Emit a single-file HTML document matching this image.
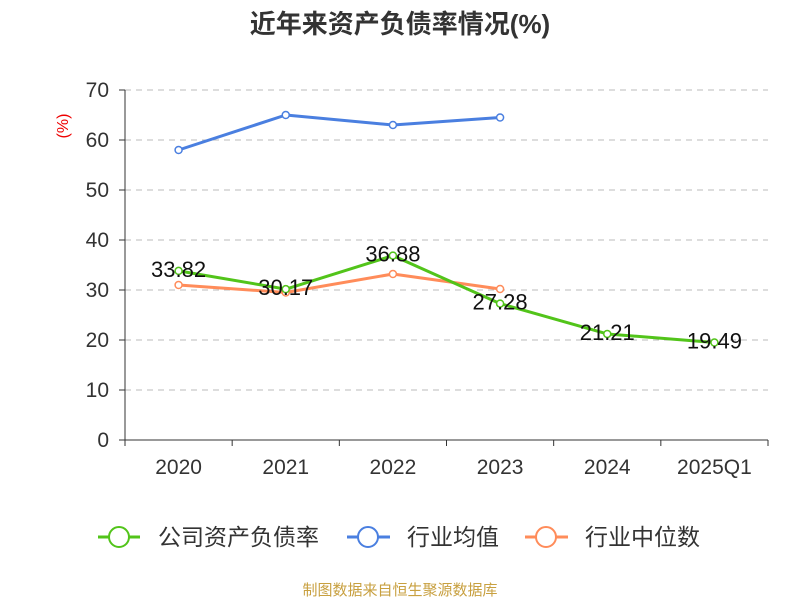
<!DOCTYPE html>
<html><head><meta charset="utf-8"><style>
body{margin:0;background:#fff;}
svg text{font-family:"Liberation Sans","Noto Sans CJK SC",sans-serif;}
</style></head><body>
<svg id="c" width="800" height="600">
<text x="400" y="33" text-anchor="middle" font-size="26" font-weight="bold" fill="#333">近年来资产负债率情况(%)</text>
<text transform="translate(68,126) rotate(-90)" text-anchor="middle" font-size="16" fill="#e00">(%)</text>
<g id="grid"></g><g id="axes"></g><g id="series"></g>
<g>
<g><line x1="98" y1="537" x2="140" y2="537" stroke="#52c41a" stroke-width="3"/><circle cx="119" cy="537" r="10" fill="#fff" stroke="#52c41a" stroke-width="2"/><text x="158" y="545" font-size="23" fill="#333">公司资产负债率</text></g>
<g><line x1="347" y1="537" x2="390" y2="537" stroke="#4a7fe0" stroke-width="3"/><circle cx="368" cy="537" r="10" fill="#fff" stroke="#4a7fe0" stroke-width="2"/><text x="407" y="545" font-size="23" fill="#333">行业均值</text></g>
<g><line x1="525" y1="537" x2="568" y2="537" stroke="#ff8c5a" stroke-width="3"/><circle cx="546" cy="537" r="10" fill="#fff" stroke="#ff8c5a" stroke-width="2"/><text x="585" y="545" font-size="23" fill="#333">行业中位数</text></g>
</g>
<text x="400" y="595" text-anchor="middle" font-size="15" fill="#c8a040">制图数据来自恒生聚源数据库</text>
</svg>
<script>
const categories=["2020","2021","2022","2023","2024","2025Q1"];
const companyValues=[33.82,30.17,36.88,27.28,21.21,19.49];
const industryAvg=[58,65,63,64.5,null,null];
const industryMedian=[31,29.5,33.2,30.2,null,null];
const yTicks=[0,10,20,30,40,50,60,70];
const NS="http://www.w3.org/2000/svg";
const X0=125,X1=768,Y0=440,Y1=90,YMAX=70;
const bw=(X1-X0)/categories.length;
const xs=i=>X0+bw*(i+0.5);
const ys=v=>Y0-(v/YMAX)*(Y0-Y1);
function mk(t,a,p){const e=document.createElementNS(NS,t);for(const k in a)e.setAttribute(k,a[k]);p.appendChild(e);return e;}
const grid=document.getElementById('grid'),axes=document.getElementById('axes'),ser=document.getElementById('series');
yTicks.forEach(v=>{
 if(v>0){const g=mk('line',{x1:X0,x2:X1,y1:ys(v),y2:ys(v),stroke:'#bbb','stroke-dasharray':'6,5'},grid);
 
 }
 const tk=mk('line',{x1:X0-6,x2:X0,y1:ys(v),y2:ys(v),stroke:'#333'},axes);
 
 
 const t=mk('text',{x:X0-16,y:ys(v)+7,'text-anchor':'end','font-size':21,fill:'#333'},axes);t.textContent=v;
 
 
});
const ya=mk('line',{x1:X0,x2:X0,y1:Y1,y2:Y0,stroke:'#333'},axes);


const xa=mk('line',{x1:X0,x2:X1,y1:Y0,y2:Y0,stroke:'#333'},axes);


for(let i=0;i<=categories.length;i++){const l=mk('line',{x1:X0+bw*i,x2:X0+bw*i,y1:Y0,y2:Y0+6,stroke:'#333'},axes);
 
 }
categories.forEach((c,i)=>{const t=mk('text',{x:xs(i),y:Y0+34,'text-anchor':'middle','font-size':21,fill:'#333'},axes);t.textContent=c;
 
 });
function series(vals,color,name,labels){
 const pts=[];vals.forEach((v,i)=>{if(v!=null)pts.push([xs(i),ys(v),v]);});
 const p=mk('polyline',{points:pts.map(q=>q[0]+','+q[1]).join(' '),fill:'none',stroke:color,'stroke-width':3,'stroke-linejoin':'round'},ser);
 
 
 pts.forEach(q=>{const c=mk('circle',{cx:q[0],cy:q[1],r:3.5,fill:'#fff',stroke:color,'stroke-width':1.5},ser);
  
  });
 if(labels)pts.forEach(q=>{const t=mk('text',{x:q[0],y:q[1]+6,'text-anchor':'middle','font-size':22,fill:'#111'},ser);t.textContent=q[2].toFixed(2);
  
  });
}
series(industryAvg,'#4a7fe0','industry-avg',false);
series(industryMedian,'#ff8c5a','industry-median',false);
series(companyValues,'#52c41a','company',true);
</script>
</body></html>
